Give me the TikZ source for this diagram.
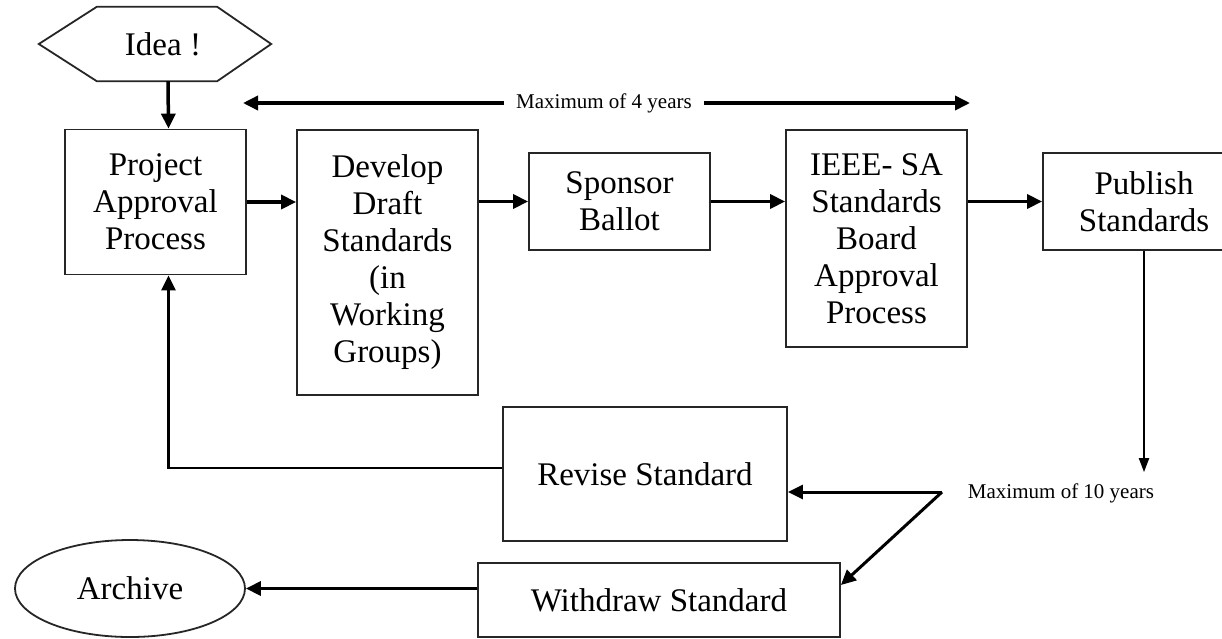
\documentclass[tikz,border=0pt]{standalone}
\usepackage{fontspec}
\setmainfont{Liberation Serif}
\usetikzlibrary{shapes.geometric,arrows.meta}

\begin{document}
\begin{tikzpicture}[x=1pt, y=-1pt,
    every node/.style={font=\fontsize{33}{37}\selectfont, align=center, inner sep=0pt},
    stage/.style={draw=black!85, line width=1.8pt, fill=white},
    flow/.style={line width=3.5pt, -{Triangle[length=15pt,width=14pt]}},
    thin flow/.style={line width=2pt, -{Triangle[length=14pt,width=10pt]}},
    note/.style={font=\fontsize{21}{24}\selectfont},
    ]
    \clip (0,0) rectangle (1222,638);

    % start and main line of stages
    \node[minimum width=232, minimum height=74] (idea) at (155,44) {};
    \draw[stage] (idea.west) -- ([xshift=58pt]idea.north west) -- ([xshift=-54pt]idea.north east)
        -- (idea.east) -- ([xshift=-54pt]idea.south east) -- ([xshift=58pt]idea.south west) -- cycle;
    \node at ([xshift=8pt]idea.center) {Idea !};

    \node[stage, minimum width=181, minimum height=145] (proj) at (155.5,202) {Project\\Approval\\Process};
    \node[stage, minimum width=181, minimum height=265] (dev) at (387.5,262.5) {Develop\\Draft\\Standards\\(in\\Working\\Groups)};
    \node[stage, minimum width=181, minimum height=97] (spon) at (619.5,201.5) {Sponsor\\Ballot};
    \node[stage, minimum width=181, minimum height=217] (ieee) at (876.5,238.5) {IEEE- SA\\Standards\\Board\\Approval\\Process};
    \node[stage, minimum width=202, minimum height=97] (pub) at (1144,201.5) {Publish\\Standards};

    % revision and withdrawal
    \node[stage, minimum width=284, minimum height=134] (rev) at (645,474) {Revise Standard};
    \node[stage, minimum width=362, minimum height=74] (wd) at (659,600) {Withdraw Standard};
    \node[stage, ellipse, minimum width=230, minimum height=97] (arch) at (130,588.5) {Archive};

    % time limits
    \node[note, inner xsep=12pt] (max4) at (604,103) {Maximum of 4 years};
    \node[note] (max10) at (1061,493) {Maximum of 10 years};
    \coordinate (m4l) at (243,103);
    \coordinate (m4r) at (970,103);
    \coordinate (split) at (942,492);

    \draw[flow] ([xshift=13pt]idea.south) -- ([xshift=13pt]proj.north);
    \draw[flow] (proj.east) -- (proj.east -| dev.west);
    \draw[flow] (spon.west -| dev.east) -- (spon.west);
    \draw[flow] (spon.east) -- (spon.east -| ieee.west);
    \draw[flow] (pub.west -| ieee.east) -- (pub.west);
    \draw[flow] (max4.west) -- (m4l);
    \draw[flow] (max4.east) -- (m4r);
    \draw[thin flow, shorten >=11pt] (pub.south) -- (pub.south |- max10.north);
    \draw[flow, line width=3pt] (split) -- (split -| rev.east);
    \draw[flow, line width=3pt] (split) -- ([yshift=15pt]wd.east);
    \draw[flow] (arch.east -| wd.west) -- (arch.east);
    \draw[line width=2.5pt, -{Triangle[length=15pt,width=14pt]}] ([yshift=6pt]rev.west) -| ([xshift=13pt]proj.south);
\end{tikzpicture}
\end{document}
